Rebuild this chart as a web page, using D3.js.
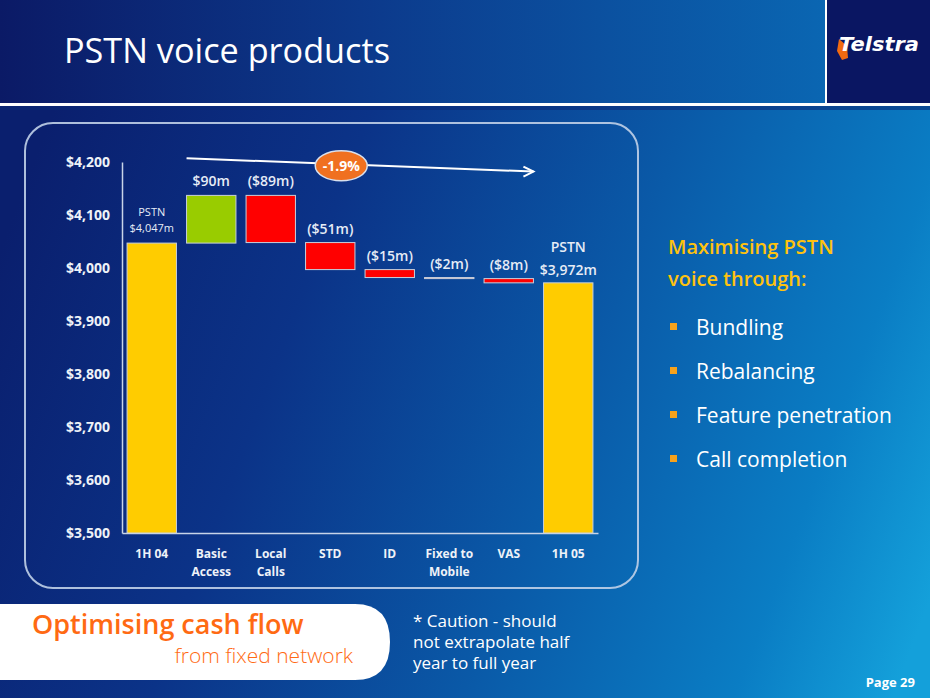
<!DOCTYPE html>
<html><head><meta charset="utf-8">
<script src="https://cdn.jsdelivr.net/npm/d3@7"></script>
<style>body{margin:0;padding:0;background:#0b2a80;}svg{display:block;}</style>
</head><body>
<script>
const categories = ["1H 04","Basic\nAccess","Local\nCalls","STD","ID","Fixed to\nMobile","VAS","1H 05"];
const changes = [4047, 90, -89, -51, -15, -2, -8, 3972];
const kinds = ["total","delta","delta","delta","delta","delta","delta","total"];
const valueLabels = ["PSTN\n$4,047m","$90m","($89m)","($51m)","($15m)","($2m)","($8m)","PSTN\n$3,972m"];
const yTicks = [3500,3600,3700,3800,3900,4000,4100,4200];
const growthLabel = "-1.9%";
const sideTitle = ["Maximising PSTN","voice through:"];
const bullets = ["Bundling","Rebalancing","Feature penetration","Call completion"];
const caution = ["* Caution - should","not extrapolate half","year to full year"];

const W = 930, H = 698;
const FONT = "'Open Sans', Lato, sans-serif";
const svg = d3.select("body").append("svg").attr("width", W).attr("height", H);
const defs = svg.append("defs");

const bg = defs.append("linearGradient").attr("id","bg").attr("gradientUnits","userSpaceOnUse")
  .attr("x1",0).attr("y1",250).attr("x2",930).attr("y2",600);
[["0%","#0a1f6e"],["30%","#0b3388"],["60%","#0a5aa8"],["85%","#0a7dc4"],["100%","#14a0da"]]
  .forEach(([o,c]) => bg.append("stop").attr("offset",o).attr("stop-color",c));
const tb = defs.append("linearGradient").attr("id","tb").attr("x1",0).attr("y1",0).attr("x2",1).attr("y2",0);
[["0%","#0b1a66"],["45%","#0c3a8c"],["100%","#0a66b2"]]
  .forEach(([o,c]) => tb.append("stop").attr("offset",o).attr("stop-color",c));

svg.append("rect").attr("width",W).attr("height",H).attr("fill","url(#bg)");
// title bar
svg.append("rect").attr("x",0).attr("y",0).attr("width",825).attr("height",103).attr("fill","url(#tb)");
svg.append("rect").attr("x",827).attr("y",0).attr("width",103).attr("height",103).attr("fill","#0a1662");
svg.append("rect").attr("x",825).attr("y",0).attr("width",2).attr("height",103).attr("fill","#ffffff");
svg.append("rect").attr("x",0).attr("y",103).attr("width",W).attr("height",3).attr("fill","#ffffff");
svg.append("rect").attr("x",0).attr("y",106).attr("width",W).attr("height",4).attr("fill","#0a2a78").attr("opacity",0.6);
svg.append("text").attr("x",64).attr("y",63).attr("fill","#ffffff")
  .attr("font-family",FONT).attr("font-size",35).attr("textLength",326).attr("lengthAdjust","spacingAndGlyphs")
  .text("PSTN voice products");
// logo
const logo = svg.append("g").attr("transform","translate(838,51)");
logo.append("path").attr("d","M1,-12 L9,-5 L10,7 L4,9 L-1,0 Z").attr("fill","#f26a10");
logo.append("text").attr("x",1).attr("y",0).attr("fill","#fff").attr("font-family","'DejaVu Sans',sans-serif")
  .attr("font-weight","bold").attr("font-style","italic").attr("font-size",19)
  .attr("textLength",80).attr("lengthAdjust","spacingAndGlyphs").text("Telstra");

// chart panel
svg.append("rect").attr("x",25).attr("y",123).attr("width",613).attr("height",465).attr("rx",28)
  .attr("fill","none").attr("stroke","#c0d0e8").attr("stroke-width",2).attr("opacity",0.9);

const x = d3.scaleBand().domain(categories).range([122,598]).paddingInner(0.17).paddingOuter(0.085);
const y = d3.scaleLinear().domain([3500,4200]).range([533,162]);

// compute bars
let running = 0;
const bars = changes.map((v,i) => {
  let lo, hi;
  if (kinds[i] === "total") { lo = 3500; hi = v; running = v; }
  else { const s = running; running = s + v; lo = Math.min(s, running); hi = Math.max(s, running); }
  return {cat: categories[i], lo, hi, v, kind: kinds[i], label: valueLabels[i], i};
});
const color = d => d.kind === "total" ? "#ffcc00" : (d.v >= 0 ? "#99cc00" : "#ff0000");

// axes
const yAxis = d3.axisLeft(y).tickValues(yTicks).tickSize(0).tickPadding(12).tickFormat(d => "$" + d3.format(",")(d));
const ga = svg.append("g").attr("transform","translate(122,0)").call(yAxis);
ga.select(".domain").attr("stroke","#c8d4e8").attr("stroke-width",1.5);
ga.selectAll("text").attr("fill","#eef2f8").attr("font-family",FONT).attr("font-weight","bold").attr("font-size",14);

const xAxis = d3.axisBottom(x).tickSize(0).tickFormat("");
const gx = svg.append("g").attr("transform","translate(0,533)").call(xAxis);
gx.select(".domain").attr("stroke","#c8d4e8").attr("stroke-width",1.5);
gx.selectAll(".tick").each(function(d){
  const t = d3.select(this).append("text").attr("fill","#eef2f8").attr("font-family",FONT)
    .attr("font-weight","bold").attr("font-size",12).attr("text-anchor","middle");
  d.split("\n").forEach((ln,k) => t.append("tspan").attr("x",0).attr("y",25 + k*18).text(ln));
});

// bars
svg.append("g").selectAll("rect").data(bars).join("rect")
  .attr("x", d => x(d.cat)).attr("width", x.bandwidth())
  .attr("y", d => y(d.hi)).attr("height", d => Math.max(0.5, y(d.lo) - y(d.hi)))
  .attr("fill", color).attr("stroke","#c8d0dc").attr("stroke-width",1);

// value labels
const lab = svg.append("g").attr("font-family",FONT).attr("text-anchor","middle").attr("fill","#e6ecf6");
bars.forEach(d => {
  const cx = x(d.cat) + x.bandwidth()/2;
  const top = y(d.hi);
  const lines = d.label.split("\n");
  if (d.kind === "total") {
    const first = d.i === 0;
    const fs = first ? 11 : 14;
    const gap = first ? 16 : 23;
    const t = lab.append("text").attr("font-size",fs).attr("font-weight", first ? "normal" : "600");
    lines.forEach((ln,k) => t.append("tspan").attr("x",cx).attr("y", top - (first?11:8) - (lines.length-1-k)*gap).text(ln));
  } else {
    lab.append("text").attr("x",cx).attr("y",top - 9).attr("font-size",14).attr("font-weight","600").text(lines[0]);
  }
});

// trend arrow
const ax0 = x(categories[1]), ax1 = x(categories[6]) + x.bandwidth();
const ay0 = y(4207), ay1 = y(4182);
svg.append("line").attr("x1",ax0).attr("y1",ay0).attr("x2",ax1).attr("y2",ay1)
  .attr("stroke","#ffffff").attr("stroke-width",2);
svg.append("path").attr("d",`M${ax1-10},${ay1-5} L${ax1},${ay1} L${ax1-10},${ay1+5}`)
  .attr("fill","none").attr("stroke","#ffffff").attr("stroke-width",2);
const ecx = x(categories[3]) + x.bandwidth()/2 + 11, ecy = y(4193);
svg.append("ellipse").attr("cx",ecx).attr("cy",ecy).attr("rx",26).attr("ry",15)
  .attr("fill","#f07020").attr("stroke","#d8e0ee").attr("stroke-width",1.5);
svg.append("text").attr("x",ecx).attr("y",ecy+5).attr("text-anchor","middle").attr("fill","#fff")
  .attr("font-family",FONT).attr("font-weight","bold").attr("font-size",14).text(growthLabel);

// side text
const side = svg.append("g").attr("font-family",FONT);
sideTitle.forEach((t,k) => side.append("text").attr("x",668).attr("y",254 + k*32).attr("fill","#ffc20e")
  .attr("font-size",20).attr("font-weight","600").text(t));
bullets.forEach((t,k) => {
  const by = 335 + k*44;
  side.append("rect").attr("x",670).attr("y",by-12).attr("width",7).attr("height",7).attr("fill","#f7a21b");
  side.append("text").attr("x",696).attr("y",by).attr("fill","#ffffff").attr("font-size",21).text(t);
});

// bottom tab
svg.append("path").attr("d","M0,604 L355,604 Q390,604 390,642 Q390,680 355,680 L0,680 Z").attr("fill","#ffffff");
svg.append("text").attr("x",32).attr("y",634).attr("fill","#ff6a13").attr("font-family",FONT)
  .attr("font-size",27).attr("font-weight","600").text("Optimising cash flow");
svg.append("text").attr("x",353).attr("y",663).attr("text-anchor","end").attr("fill","#ff6a13").attr("font-family",FONT)
  .attr("font-size",21).attr("font-weight","300").text("from fixed network");
caution.forEach((t,k) => svg.append("text").attr("x",413).attr("y",627 + k*21).attr("fill","#ffffff")
  .attr("font-family",FONT).attr("font-size",17).text(t));
svg.append("text").attr("x",915).attr("y",687).attr("text-anchor","end").attr("fill","#ffffff")
  .attr("font-family",FONT).attr("font-weight","bold").attr("font-size",13).text("Page 29");
</script>
</body></html>
